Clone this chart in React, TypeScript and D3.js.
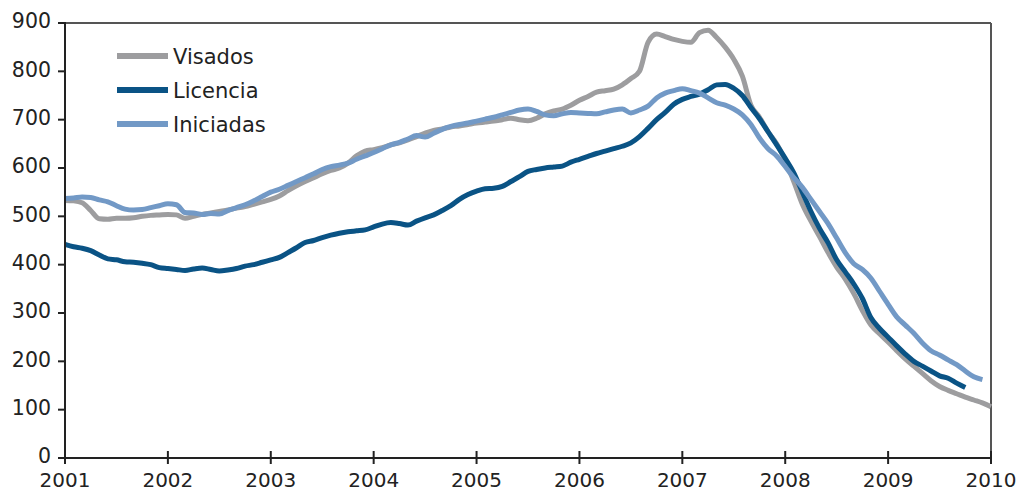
import React from "react";
import * as d3 from "d3";

const years = ["2001","2002","2003","2004","2005","2006","2007","2008","2009","2010"];
const yTicks = [0,100,200,300,400,500,600,700,800,900];
const startYear = 2001;

// Monthly values starting January 2001
const visados = [
  533,532,528,512,495,494,496,496,497,500,502,503,
  504,503,496,500,504,507,510,513,517,520,525,530,
  535,542,553,563,572,580,588,595,600,610,625,635,
  638,642,648,652,658,665,672,678,681,685,687,690,
  693,695,697,700,703,700,698,703,712,718,722,730,
  740,748,757,760,763,772,785,800,860,877,872,866,
  862,860,880,885,870,850,825,790,730,705,675,650,
  615,572,525,490,458,425,395,370,340,305,275,257,
  240,222,205,190,175,160,148,140,133,126,120,114,
  106
];
const licencia = [
  442,437,434,429,420,412,410,406,405,403,400,394,
  392,390,388,391,393,390,387,389,392,397,400,405,
  410,415,425,435,446,450,456,461,465,468,470,472,
  478,484,487,485,482,490,497,503,512,522,535,545,
  552,557,558,562,572,582,593,597,600,602,604,612,
  618,624,630,635,640,645,652,665,682,700,715,732,
  742,748,753,762,772,773,765,750,725,702,675,648,
  620,590,550,510,475,445,410,385,360,330,290,268,
  250,232,215,200,190,180,170,165,155,146
];
const iniciadas = [
  537,538,540,539,534,530,522,515,513,514,518,522,
  526,524,508,507,504,506,505,512,518,524,532,541,
  550,556,564,572,580,588,597,603,606,610,618,625,
  632,640,648,653,660,667,664,672,680,686,690,693,
  697,701,705,710,715,720,722,717,710,708,712,715,
  714,713,712,716,720,722,714,720,728,745,755,760,
  764,760,755,745,735,730,722,710,690,662,640,625,
  603,580,560,535,510,485,455,425,402,390,372,345,
  318,292,275,258,238,222,213,203,193,180,168,162
];

const seriesNames = ["Visados","Licencia","Iniciadas"];
const seriesColors = ["#9d9d9f","#0a5385","#7299c6"];

const W = 1023, H = 492;
const left = 65, right = 991, top = 23, bottom = 458;

export default function App() {
  const x = d3.scaleLinear().domain([2001, 2010]).range([left, right]);
  const y = d3.scaleLinear().domain([0, 900]).range([bottom, top]);
  const all = [visados, licencia, iniciadas];
  const line = d3.line<number>()
    .x((_, i) => x(startYear + i / 12))
    .y((d) => y(d))
    .curve(d3.curveMonotoneX);
  const font = "'DejaVu Sans', sans-serif";
  const textColor = "#222";
  return (
    <svg width={W} height={H} style={{ position: "absolute", left: 0, top: 0, background: "#fff" }}>
      <rect x={0} y={0} width={W} height={H} fill="#fff" />
      <line x1={left} x2={right} y1={top} y2={top} stroke="#555" strokeWidth={2} />
      <line x1={right} x2={right} y1={top} y2={bottom} stroke="#555" strokeWidth={2} />
      {all.map((s, k) => (
        <path key={k} d={line(s) || ""} fill="none" stroke={seriesColors[k]} strokeWidth={5}
          strokeLinejoin="round" strokeLinecap="butt" />
      ))}
      <line x1={left} x2={left} y1={top - 1} y2={bottom + 1} stroke="#222" strokeWidth={2} />
      <line x1={left - 1} x2={right + 1} y1={bottom} y2={bottom} stroke="#222" strokeWidth={2} />
      {yTicks.map((t) => (
        <g key={t}>
          <line x1={left - 7} x2={left} y1={y(t)} y2={y(t)} stroke="#222" strokeWidth={2} />
          <text x={51} y={y(t) - 2} dy="0.36em" textAnchor="end" fontFamily={font} fontSize={20.5} fill={textColor}>{t}</text>
        </g>
      ))}
      {years.map((yr) => (
        <g key={yr}>
          <line x1={x(+yr)} x2={x(+yr)} y1={bottom - 7} y2={bottom + 6} stroke="#222" strokeWidth={2} />
          <text x={x(+yr)} y={487} textAnchor="middle" fontFamily={font} fontSize={20} fill={textColor}>{yr}</text>
        </g>
      ))}
      {seriesNames.map((n, k) => (
        <g key={n}>
          <line x1={117} x2={168} y1={56 + k * 34} y2={56 + k * 34} stroke={seriesColors[k]} strokeWidth={6} />
          <text x={173} y={56 + k * 34} dy="0.36em" fontFamily={font} fontSize={21} fill={textColor}>{n}</text>
        </g>
      ))}
    </svg>
  );
}
